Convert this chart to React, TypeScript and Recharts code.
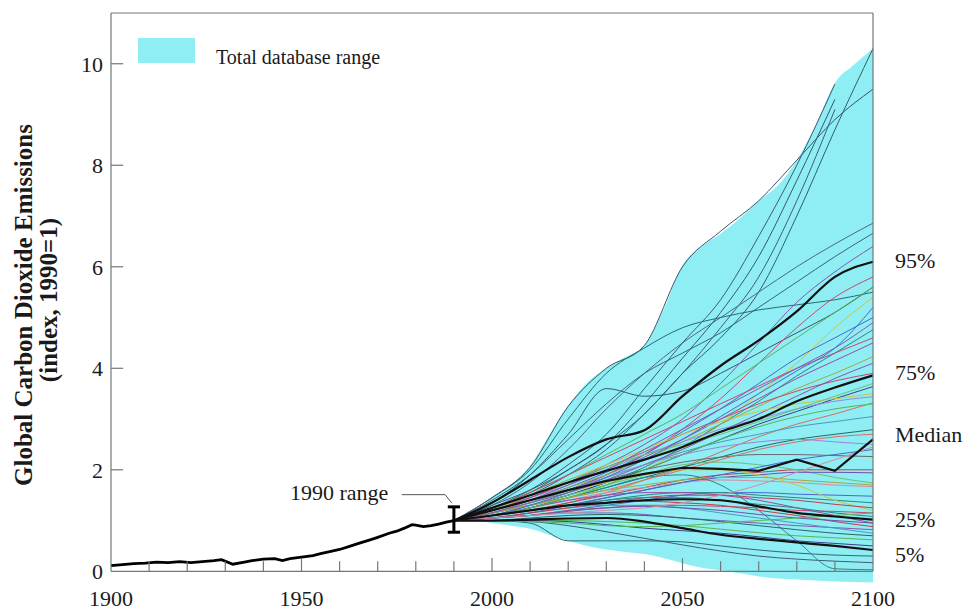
import React from 'react';
import {
  ComposedChart,
  Area,
  Line,
  XAxis,
  YAxis,
  ReferenceLine,
  Customized,
} from 'recharts';

const FONT = "'Liberation Serif', 'Times New Roman', Times, serif";
const CYAN = '#8eeef3';

// historical emissions (index, 1990 = 1)
const histYears = [
  1900, 1903, 1906, 1909, 1912, 1915, 1918, 1921, 1924, 1927, 1929, 1932, 1935, 1937,
  1940, 1943, 1945, 1947, 1950, 1953, 1955, 1958, 1960, 1963, 1965, 1968, 1970, 1973,
  1975, 1977, 1979, 1980, 1982, 1984, 1986, 1988, 1990,
];
const histValues = [
  0.11, 0.13, 0.15, 0.16, 0.18, 0.17, 0.19, 0.17, 0.19, 0.21, 0.23, 0.14, 0.18, 0.21,
  0.24, 0.25, 0.21, 0.25, 0.28, 0.31, 0.35, 0.4, 0.43, 0.5, 0.55, 0.62, 0.67, 0.75,
  0.79, 0.85, 0.92, 0.91, 0.88, 0.9, 0.93, 0.97, 1.0,
];

// total database range
const bandYears = [
  1990, 1995, 2000, 2005, 2010, 2015, 2020, 2025, 2030, 2035, 2040, 2045,
  2050, 2055, 2060, 2065, 2070, 2075, 2080, 2085, 2090, 2095, 2100,
];
const bandHigh = [
  1.0, 1.12, 1.46, 1.7, 2.08, 2.68, 3.27, 3.72, 4.0, 4.22, 4.45, 5.15,
  6.03, 6.4, 6.65, 6.95, 7.3, 7.6, 8.1, 8.8, 9.62, 9.98, 10.3,
];
const bandLow = [
  1.0, 1.0, 0.95, 0.9, 0.84, 0.72, 0.6, 0.5, 0.43, 0.38, 0.34, 0.26,
  0.16, 0.07, 0.02, -0.04, -0.1, -0.14, -0.16, -0.18, -0.2, -0.21, -0.22,
];

// scenario years and percentiles
const scenarioYears = [1990, 2000, 2010, 2020, 2030, 2040, 2050, 2060, 2070, 2080, 2090, 2100];
const p95 = [1, 1.35, 1.8, 2.25, 2.6, 2.78, 3.45, 4.05, 4.55, 5.12, 5.8, 6.1];
const p75 = [1, 1.25, 1.5, 1.75, 1.98, 2.2, 2.45, 2.75, 3.0, 3.35, 3.62, 3.86];
const pMedian = [1, 1.2, 1.4, 1.6, 1.78, 1.92, 2.04, 2.02, 1.98, 2.2, 1.98, 2.6];
const p25 = [1, 1.1, 1.2, 1.3, 1.35, 1.4, 1.42, 1.4, 1.28, 1.15, 1.08, 1.02];
const p5 = [1, 1.0, 1.02, 1.04, 1.05, 0.98, 0.85, 0.72, 0.64, 0.57, 0.5, 0.42];

const scenarios: (number | null)[][] = [
  [1, 1.45, 2.05, 3.25, 4.0, 4.45, 6.0, 6.7, 7.3, 8.1, 8.9, 9.5],
  [1, 1.3, 1.6, 2.0, 2.5, 3.1, 3.9, 4.6, 5.5, 7.0, 8.7, 10.3],
  [1, 1.25, 1.6, 2.1, 2.7, 3.6, 4.5, 5.35, 6.6, 8.0, 9.6, null],
  [1, 1.25, 1.55, 2.0, 2.5, 3.3, 4.2, 5.1, 6.2, 7.7, 9.3, null],
  [1, 1.2, 1.5, 1.9, 2.4, 3.1, 3.9, 4.8, 5.8, 7.3, 9.1, null],
  [1, 1.45, 2.0, 3.0, 3.9, 4.4, 4.8, 5.0, 5.15, 5.25, 5.35, 5.5],
  [1, 1.35, 1.9, 2.7, 3.6, 3.45, 3.55, 3.9, 4.3, 4.7, 5.1, 5.6],
  [1, 1.3, 1.75, 2.4, 3.2, 3.9, 4.5, 5.0, 5.5, 6.0, 6.45, 6.86],
  [1, 1.4, 1.9, 2.6, 3.3, 3.9, 4.3, 4.7, 5.2, 5.7, 6.2, 6.66],
  [1, 1.2, 1.45, 1.75, 2.1, 2.5, 3.0, 3.7, 4.5, 5.3, 5.9, 6.4],
  [1, 1.15, 1.35, 1.6, 1.9, 2.3, 2.8, 3.4, 4.1, 4.8, 5.4, 5.8],
  [1, 1.25, 1.55, 1.9, 2.3, 2.7, 3.1, 3.6, 4.1, 4.6, 5.1, 5.6],
  [1, 1.1, 1.25, 1.45, 1.7, 2.0, 2.4, 2.9, 3.5, 4.1, 4.8, 5.4],
  [1, 1.2, 1.4, 1.65, 1.95, 2.3, 2.75, 3.2, 3.7, 4.2, 4.6, 5.0],
  [1, 1.1, 1.3, 1.5, 1.75, 2.05, 2.45, 2.9, 3.35, 3.85, 4.3, 4.76],
  [1, 1.15, 1.35, 1.6, 1.9, 2.25, 2.6, 3.0, 3.4, 3.8, 4.15, 4.5],
  [1, 1.2, 1.4, 1.65, 1.9, 2.2, 2.55, 2.9, 3.25, 3.6, 3.9, 4.23],
  [1, 1.15, 1.3, 1.5, 1.75, 2.0, 2.3, 2.6, 2.9, 3.15, 3.4, 3.64],
  [1, 1.2, 1.45, 1.7, 2.0, 2.3, 2.55, 2.8, 3.0, 3.2, 3.35, 3.44],
  [1, 1.1, 1.2, 1.35, 1.55, 1.8, 2.05, 2.35, 2.65, 2.9, 3.1, 3.32],
  [1, 1.15, 1.35, 1.6, 1.85, 2.1, 2.35, 2.55, 2.7, 2.85, 2.95, 3.05],
  [1, 1.1, 1.25, 1.45, 1.65, 1.85, 2.05, 2.25, 2.45, 2.6, 2.7, 2.79],
  [1, 1.2, 1.4, 1.6, 1.8, 2.0, 2.15, 2.25, 2.3, 2.3, 2.28, 2.26],
  [1, 1.1, 1.2, 1.35, 1.5, 1.65, 1.8, 1.9, 1.95, 2.0, 2.0, 2.0],
  [1, 1.15, 1.3, 1.5, 1.7, 1.9, 2.1, 2.15, 2.1, 2.0, 1.85, 1.74],
  [1, 1.05, 1.15, 1.3, 1.45, 1.6, 1.75, 1.85, 1.9, 1.95, 1.95, 1.94],
  [1, 1.1, 1.25, 1.4, 1.55, 1.65, 1.75, 1.8, 1.78, 1.75, 1.7, 1.67],
  [1, 1.05, 1.1, 1.2, 1.3, 1.4, 1.5, 1.55, 1.55, 1.52, 1.5, 1.48],
  [1, 1.1, 1.2, 1.3, 1.4, 1.5, 1.55, 1.55, 1.5, 1.45, 1.4, 1.35],
  [1, 1.05, 1.1, 1.2, 1.25, 1.3, 1.3, 1.28, 1.25, 1.2, 1.18, 1.15],
  [1, 1.05, 1.1, 1.15, 1.15, 1.12, 1.05, 1.0, 0.95, 0.9, 0.86, 0.82],
  [1, 1.0, 1.0, 1.0, 0.98, 0.95, 0.9, 0.83, 0.76, 0.7, 0.66, 0.62],
  [1, 1.0, 0.95, 0.6, 0.6, 0.6, 0.58, 0.5, 0.42, 0.36, 0.32, 0.3],
  [1, 1.0, 0.98, 0.9, 0.78, 0.65, 0.52, 0.4, 0.3, 0.24, 0.2, 0.17],
  [1, 1.1, 1.25, 1.45, 1.65, 1.85, 1.9, 1.7, 1.2, 0.6, 0.05, 0.03],
  [1, 1.15, 1.35, 1.55, 1.75, 1.9, 2.0, 2.0, 1.9, 1.7, 1.4, 1.2],
  [1, 1.1, 1.25, 1.4, 1.5, 1.55, 1.55, 1.5, 1.4, 1.25, 1.1, 0.95],
  [1, 1.05, 1.15, 1.25, 1.3, 1.3, 1.25, 1.15, 1.05, 0.95, 0.85, 0.75],
  [1, 1.1, 1.2, 1.3, 1.35, 1.38, 1.35, 1.3, 1.2, 1.1, 0.98, 0.88],
  [1, 1.0, 1.0, 0.98, 0.92, 0.85, 0.8, 0.75, 0.68, 0.6, 0.55, 0.5],
  [1, 1.2, 1.45, 1.75, 2.05, 2.35, 2.7, 3.0, 3.3, 3.55, 3.75, 3.9],
  [1, 1.15, 1.35, 1.55, 1.8, 2.1, 2.4, 2.75, 3.1, 3.45, 3.8, 4.1],
  [1, 1.2, 1.5, 1.8, 2.1, 2.4, 2.7, 2.95, 3.15, 3.3, 3.4, 3.5],
  [1, 1.1, 1.25, 1.45, 1.7, 2.0, 2.3, 2.6, 2.85, 3.05, 3.2, 3.3],
  [1, 1.15, 1.3, 1.45, 1.6, 1.8, 2.0, 2.2, 2.4, 2.55, 2.65, 2.7],
  [1, 1.2, 1.4, 1.6, 1.85, 2.1, 2.3, 2.45, 2.55, 2.6, 2.55, 2.5],
  [1, 1.1, 1.2, 1.3, 1.45, 1.6, 1.75, 1.9, 2.05, 2.2, 2.3, 2.4],
  [1, 1.15, 1.3, 1.45, 1.6, 1.7, 1.8, 1.85, 1.85, 1.8, 1.75, 1.7],
  [1, 1.05, 1.15, 1.25, 1.35, 1.45, 1.5, 1.5, 1.45, 1.4, 1.32, 1.25],
  [1, 1.1, 1.2, 1.3, 1.4, 1.45, 1.45, 1.4, 1.32, 1.25, 1.15, 1.08],
  [1, 1.05, 1.1, 1.18, 1.25, 1.28, 1.25, 1.2, 1.12, 1.05, 1.0, 0.95],
  [1, 1.0, 1.05, 1.1, 1.12, 1.1, 1.05, 0.98, 0.9, 0.82, 0.75, 0.7],
  [1, 1.25, 1.55, 1.9, 2.25, 2.6, 2.95, 3.3, 3.65, 4.0, 4.3, 4.6],
  [1, 1.15, 1.4, 1.7, 2.0, 2.4, 2.8, 3.2, 3.6, 4.0, 4.4, 4.9],
  [1, 1.25, 1.5, 1.8, 2.05, 2.3, 2.5, 2.7, 2.95, 3.2, 3.45, 3.7],
  [1, 1.1, 1.3, 1.55, 1.85, 2.2, 2.6, 3.05, 3.5, 3.95, 4.4, 5.2],
  [1, 1.05, 1.1, 1.15, 1.2, 1.25, 1.35, 1.5, 1.7, 1.95, 2.2, 2.45],
  [1, 1.0, 0.98, 0.95, 0.9, 0.88, 0.9, 0.95, 1.0, 1.05, 1.1, 1.15],
];

const scenarioColors = [
  '#37566e', '#355c6c', '#3f5a78', '#37566e', '#445a7c', '#2b6a70', '#37566e', '#50658a', '#3a6476',
  '#8558b0', '#c84870', '#56b656', '#cfc53c', '#4a68cc', '#2f8585', '#9a4ca4', '#9eab44', '#3e3e88',
  '#9a86d8', '#d87060', '#4e98c0', '#276868', '#6a6a6a', '#bb4052', '#70bf76', '#7050aa', '#d88aa0',
  '#4a68cc', '#2f8585', '#c84870', '#8558b0', '#56b656', '#2b6a70', '#445a7c', '#2f8585', '#cfc53c',
  '#9a4ca4', '#4e98c0', '#bb4052', '#3e3e88', '#c84870', '#8558b0', '#cfc53c', '#56b656', '#d87060',
  '#9a86d8', '#4a68cc', '#9eab44', '#bb4052', '#2f8585', '#7050aa', '#276868', '#c84870', '#8558b0',
  '#70bf76', '#4a68cc', '#d88aa0', '#56b656',
];

const xLabelTicks = [1900, 1950, 2000, 2050, 2100];
const xMinorTicks = [1910, 1920, 1930, 1940, 1960, 1970, 1980, 1990, 2010, 2020, 2030, 2040, 2060, 2070, 2080, 2090];
const xMajorTicks = [1950, 2000, 2050];
const yTicks = [0, 2, 4, 6, 8, 10];

const percentileLabels = ['95%', '75%', 'Median', '25%', '5%'];

const allYears = Array.from(new Set([...histYears, ...bandYears, ...scenarioYears])).sort((a, b) => a - b);

const rows = allYears.map((year) => {
  const row: Record<string, any> = { year };
  const h = histYears.indexOf(year);
  if (h >= 0) row.hist = histValues[h];
  const b = bandYears.indexOf(year);
  if (b >= 0) row.band = [bandLow[b], bandHigh[b]];
  const s = scenarioYears.indexOf(year);
  if (s >= 0) {
    scenarios.forEach((series, k) => {
      if (series[s] != null) row['s' + k] = series[s];
    });
    row.p95 = p95[s];
    row.p75 = p75[s];
    row.pMedian = pMedian[s];
    row.p25 = p25[s];
    row.p5 = p5[s];
  }
  return row;
});

const Annotations = () => (
  <g fontFamily={FONT} fill="#1a1a1a">
    <rect x={138} y={38} width={57} height={25} fill={CYAN} />
    <text x={216} y={64} fontSize={20}>Total database range</text>
    <text x={290} y={500} fontSize={22}>1990 range</text>
    {percentileLabels.map((t, i) => (
      <text key={t} x={895} y={[268, 380, 442, 527, 562][i]} fontSize={22}>
        {t}
      </text>
    ))}
    <text transform="translate(32,305) rotate(-90)" textAnchor="middle" fontSize={25} fontWeight="bold">
      Global Carbon Dioxide Emissions
    </text>
    <text transform="translate(57,300) rotate(-90)" textAnchor="middle" fontSize={25} fontWeight="bold">
      (index, 1990=1)
    </text>
  </g>
);

const FRAME = '#6f7a7a';

export default function App() {
  return (
    <div style={{ position: 'absolute', left: 0, top: 0, width: 970, height: 611 }}>
      <ComposedChart
        width={970}
        height={611}
        data={rows}
        margin={{ top: 13, right: 97, bottom: 0, left: 51 }}
      >
        <XAxis
          dataKey="year"
          type="number"
          domain={[1900, 2100]}
          ticks={xLabelTicks}
          axisLine={false}
          tickLine={false}
          tickMargin={0}
          height={27}
          tick={{ fill: '#1a1a1a', fontSize: 22, fontFamily: FONT }}
        />
        <YAxis
          type="number"
          domain={[-0.25, 11]}
          ticks={yTicks}
          axisLine={false}
          tickLine={false}
          width={60}
          tick={{ fill: '#1a1a1a', fontSize: 22, fontFamily: FONT }}
        />

        <Area
          dataKey="band"
          type="monotone"
          fill={CYAN}
          fillOpacity={1}
          stroke="none"
          isAnimationActive={false}
        />

        {scenarios.map((_, k) => (
          <Line
            key={'s' + k}
            dataKey={'s' + k}
            type="monotone"
            stroke={scenarioColors[k]}
            strokeWidth={1}
            dot={false}
            activeDot={false}
            connectNulls
            isAnimationActive={false}
          />
        ))}

        {['p95', 'p75', 'p25', 'p5'].map((key) => (
          <Line
            key={key}
            dataKey={key}
            type="monotone"
            stroke="#111"
            strokeWidth={2.2}
            dot={false}
            activeDot={false}
            connectNulls
            isAnimationActive={false}
          />
        ))}
        <Line
          dataKey="pMedian"
          type="linear"
          stroke="#111"
          strokeWidth={2.2}
          dot={false}
          activeDot={false}
          connectNulls
          isAnimationActive={false}
        />

        <Line
          dataKey="hist"
          type="linear"
          stroke="#000"
          strokeWidth={2.8}
          dot={false}
          activeDot={false}
          isAnimationActive={false}
        />

        {/* frame */}
        <ReferenceLine segment={[{ x: 1900, y: 0 }, { x: 1900, y: 11 }]} stroke={FRAME} strokeWidth={1.2} />
        <ReferenceLine segment={[{ x: 2100, y: 0 }, { x: 2100, y: 11 }]} stroke={FRAME} strokeWidth={1.2} />
        <ReferenceLine segment={[{ x: 1900, y: 11 }, { x: 2100, y: 11 }]} stroke={FRAME} strokeWidth={1.2} />
        <ReferenceLine segment={[{ x: 1900, y: 0 }, { x: 2100, y: 0 }]} stroke={FRAME} strokeWidth={1.2} />

        {/* inward tick marks */}
        {yTicks.slice(1).map((v) => (
          <ReferenceLine key={'yt' + v} segment={[{ x: 1900, y: v }, { x: 1903.2, y: v }]} stroke={FRAME} strokeWidth={1.2} />
        ))}
        {xMinorTicks.map((yr) => (
          <ReferenceLine key={'xm' + yr} segment={[{ x: yr, y: 0 }, { x: yr, y: 0.2 }]} stroke={FRAME} strokeWidth={1.2} />
        ))}
        {xMajorTicks.map((yr) => (
          <ReferenceLine key={'xM' + yr} segment={[{ x: yr, y: 0 }, { x: yr, y: 0.26 }]} stroke={FRAME} strokeWidth={1.2} />
        ))}

        {/* 1990 range bar and leader */}
        <ReferenceLine segment={[{ x: 1990, y: 0.77 }, { x: 1990, y: 1.27 }]} stroke="#000" strokeWidth={3} />
        <ReferenceLine segment={[{ x: 1988.4, y: 1.27 }, { x: 1991.6, y: 1.27 }]} stroke="#000" strokeWidth={3} />
        <ReferenceLine segment={[{ x: 1988.4, y: 0.77 }, { x: 1991.6, y: 0.77 }]} stroke="#000" strokeWidth={3} />
        <ReferenceLine segment={[{ x: 1976.3, y: 1.51 }, { x: 1987.7, y: 1.51 }]} stroke="#555" strokeWidth={1} />
        <ReferenceLine segment={[{ x: 1987.7, y: 1.51 }, { x: 1989.4, y: 1.35 }]} stroke="#555" strokeWidth={1} />

        <Customized component={Annotations} />
      </ComposedChart>
    </div>
  );
}
